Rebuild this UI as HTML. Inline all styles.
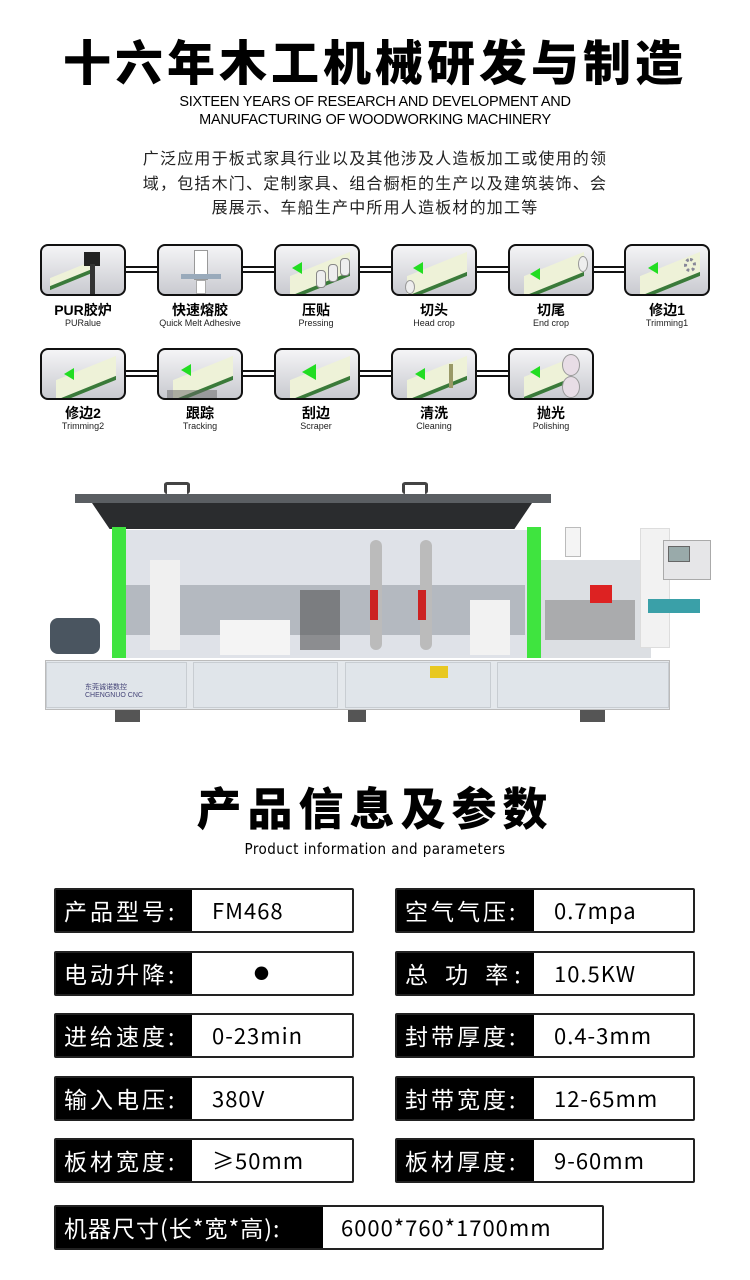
<!DOCTYPE html>
<html><head><meta charset="utf-8"><style>
*{margin:0;padding:0;box-sizing:border-box}
body{width:750px;height:1280px;background:#fff;position:relative;overflow:hidden;font-family:"Liberation Sans","Noto Sans CJK SC",sans-serif;color:#000}
.a{position:absolute}
.c{text-align:center;left:0;width:750px}
.ic{position:absolute;width:86px;height:52px;border:2px solid #111;border-radius:8px;background:linear-gradient(#f4f4f6,#c9cad0);overflow:hidden}
.ln{position:absolute;height:7px;border-top:2px solid #111;border-bottom:2px solid #111}
.pl{position:absolute;width:60px;height:24px;left:14px;top:18px;background:#eef2d8;transform:skewY(-22deg);border-bottom:4px solid #3a7a3a}
.ar{position:absolute;left:24px;top:20px;width:0;height:0;border-top:6px solid transparent;border-bottom:6px solid transparent;border-right:10px solid #22dd22}
.lb{position:absolute;width:120px;text-align:center;font-size:14px;font-weight:bold;line-height:15px}
.lb small{display:block;font-size:9px;font-weight:normal;line-height:10px;color:#222}
.row{position:absolute;height:45px;border:2px solid #222;border-radius:2px;background:#fff;display:flex}
.row .k{background:#000;color:#fff;font-size:23px;line-height:41px;padding-left:8px;letter-spacing:3px;font-family:"Noto Sans CJK SC",sans-serif}
.row .v{font-size:22px;line-height:41px;padding-left:20px;letter-spacing:1px;font-family:"Noto Sans CJK SC","Liberation Sans",sans-serif}
</style></head><body>
<div class="a c" style="top:26px;font-size:48px;font-weight:900;letter-spacing:4px;line-height:66px;font-family:'Noto Sans CJK SC',sans-serif">十六年木工机械研发与制造</div>
<div class="a c" style="top:93px;font-size:14.5px;line-height:18px;letter-spacing:-0.3px">SIXTEEN YEARS OF RESEARCH AND DEVELOPMENT AND<br>MANUFACTURING OF WOODWORKING MACHINERY</div>
<div class="a c" style="top:145px;font-size:16px;line-height:24.5px;letter-spacing:1.2px;font-family:'Noto Sans CJK SC',sans-serif;color:#222">广泛应用于板式家具行业以及其他涉及人造板加工或使用的领<br>域，包括木门、定制家具、组合橱柜的生产以及建筑装饰、会<br>展展示、车船生产中所用人造板材的加工等</div>

<div class="ln" style="left:126px;top:266px;width:32px"></div>
<div class="ln" style="left:243px;top:266px;width:32px"></div>
<div class="ln" style="left:359px;top:266px;width:33px"></div>
<div class="ln" style="left:476px;top:266px;width:33px"></div>
<div class="ln" style="left:593px;top:266px;width:32px"></div>
<div class="ln" style="left:126px;top:370px;width:32px"></div>
<div class="ln" style="left:243px;top:370px;width:32px"></div>
<div class="ln" style="left:359px;top:370px;width:33px"></div>
<div class="ln" style="left:476px;top:370px;width:33px"></div>

<div class="ic" style="left:40px;top:244px"><div class="pl" style="left:8px;top:24px;width:40px;height:12px"></div><div class="a" style="left:42px;top:6px;width:16px;height:14px;background:#222"></div><div class="a" style="left:48px;top:18px;width:5px;height:30px;background:#333"></div></div>
<div class="ic" style="left:157px;top:244px"><div class="a" style="left:35px;top:4px;width:14px;height:30px;background:#fff;border:1px solid #999"></div><div class="a" style="left:22px;top:28px;width:40px;height:5px;background:#9ab"></div><div class="a" style="left:37px;top:34px;width:10px;height:14px;background:#fff;border:1px solid #aaa"></div></div>
<div class="ic" style="left:274px;top:244px"><div class="pl"></div><div class="ar" style="left:16px;top:16px"></div><div class="a" style="left:40px;top:24px;width:10px;height:18px;background:#eee;border:1px solid #888;border-radius:4px"></div><div class="a" style="left:52px;top:18px;width:10px;height:18px;background:#eee;border:1px solid #888;border-radius:4px"></div><div class="a" style="left:64px;top:12px;width:10px;height:18px;background:#eee;border:1px solid #888;border-radius:4px"></div></div>
<div class="ic" style="left:391px;top:244px"><div class="pl"></div><div class="ar" style="left:20px;top:16px"></div><div class="a" style="left:12px;top:34px;width:10px;height:14px;border-radius:50%;background:#eee;border:1px solid #999"></div></div>
<div class="ic" style="left:508px;top:244px"><div class="pl"></div><div class="ar" style="left:20px;top:22px"></div><div class="a" style="left:68px;top:10px;width:10px;height:16px;border-radius:50%;background:#eee;border:1px solid #999"></div></div>
<div class="ic" style="left:624px;top:244px"><div class="pl"></div><div class="ar" style="left:22px;top:16px"></div><div class="a" style="left:58px;top:12px;width:12px;height:14px;border-radius:50%;border:3px dotted #889"></div></div>
<div class="lb" style="left:23px;top:303px">PUR胶炉<small>PURalue</small></div>
<div class="lb" style="left:140px;top:303px">快速熔胶<small>Quick Melt Adhesive</small></div>
<div class="lb" style="left:256px;top:303px">压贴<small>Pressing</small></div>
<div class="lb" style="left:374px;top:303px">切头<small>Head crop</small></div>
<div class="lb" style="left:491px;top:303px">切尾<small>End crop</small></div>
<div class="lb" style="left:607px;top:303px">修边1<small>Trimming1</small></div>

<div class="ic" style="left:40px;top:348px"><div class="pl"></div><div class="ar" style="left:22px;top:18px"></div></div>
<div class="ic" style="left:157px;top:348px"><div class="pl"></div><div class="ar" style="left:22px;top:14px"></div><div class="a" style="left:8px;top:40px;width:50px;height:8px;background:#666;opacity:.5"></div></div>
<div class="ic" style="left:274px;top:348px"><div class="pl"></div><div class="ar" style="left:26px;top:14px;border-right-width:14px;border-top-width:8px;border-bottom-width:8px"></div></div>
<div class="ic" style="left:391px;top:348px"><div class="pl"></div><div class="ar" style="left:22px;top:18px"></div><div class="a" style="left:56px;top:14px;width:4px;height:24px;background:#996"></div></div>
<div class="ic" style="left:508px;top:348px"><div class="pl" style="width:44px"></div><div class="ar" style="left:20px;top:16px"></div><div class="a" style="left:52px;top:4px;width:18px;height:22px;border-radius:50%;background:#e8dde6;border:1px solid #999"></div><div class="a" style="left:52px;top:26px;width:18px;height:22px;border-radius:50%;background:#e8dde6;border:1px solid #999"></div></div>
<div class="lb" style="left:23px;top:406px">修边2<small>Trimming2</small></div>
<div class="lb" style="left:140px;top:406px">跟踪<small>Tracking</small></div>
<div class="lb" style="left:256px;top:406px">刮边<small>Scraper</small></div>
<div class="lb" style="left:374px;top:406px">清洗<small>Cleaning</small></div>
<div class="lb" style="left:491px;top:406px">抛光<small>Polishing</small></div>

<div class="a" style="left:75px;top:494px;width:476px;height:9px;background:#5a5e62"></div>
<div class="a" style="left:92px;top:503px;width:440px;height:26px;background:#2a2c2e;clip-path:polygon(0 0,100% 0,96% 100%,4% 100%)"></div>
<div class="a" style="left:164px;top:482px;width:26px;height:12px;border:3px solid #444;border-bottom:none;border-radius:3px"></div>
<div class="a" style="left:402px;top:482px;width:26px;height:12px;border:3px solid #444;border-bottom:none;border-radius:3px"></div>
<div class="a" style="left:112px;top:530px;width:420px;height:128px;background:#dfe2e8"></div>
<div class="a" style="left:125px;top:585px;width:400px;height:50px;background:#b4b9c0"></div>
<div class="a" style="left:150px;top:560px;width:30px;height:90px;background:#f0f0f0"></div>
<div class="a" style="left:220px;top:620px;width:70px;height:35px;background:#f4f4f4"></div>
<div class="a" style="left:300px;top:590px;width:40px;height:60px;background:#555;opacity:.6"></div>
<div class="a" style="left:370px;top:540px;width:12px;height:110px;background:#bbb;border-radius:6px"></div>
<div class="a" style="left:420px;top:540px;width:12px;height:110px;background:#bbb;border-radius:6px"></div>
<div class="a" style="left:370px;top:590px;width:8px;height:30px;background:#c22"></div>
<div class="a" style="left:418px;top:590px;width:8px;height:30px;background:#c22"></div>
<div class="a" style="left:470px;top:600px;width:40px;height:55px;background:#f2f2f2"></div>
<div class="a" style="left:112px;top:527px;width:14px;height:131px;background:#3fe43f"></div>
<div class="a" style="left:527px;top:527px;width:14px;height:131px;background:#3fe43f"></div>
<div class="a" style="left:541px;top:560px;width:110px;height:98px;background:#dcdfe3"></div>
<div class="a" style="left:545px;top:600px;width:90px;height:40px;background:#777;opacity:.5"></div>
<div class="a" style="left:565px;top:527px;width:16px;height:30px;background:#f4f4f4;border:1px solid #bbb"></div>
<div class="a" style="left:590px;top:585px;width:22px;height:18px;background:#d22"></div>
<div class="a" style="left:640px;top:528px;width:30px;height:120px;background:#f2f2f2;border:1px solid #ddd"></div>
<div class="a" style="left:663px;top:540px;width:48px;height:40px;background:#e6e6e8;border:1px solid #aaa"></div>
<div class="a" style="left:668px;top:546px;width:22px;height:16px;background:#9aa;border:1px solid #666"></div>
<div class="a" style="left:648px;top:599px;width:52px;height:14px;background:#3aa0a8"></div>
<div class="a" style="left:50px;top:618px;width:50px;height:36px;background:#4a5560;border-radius:8px"></div>
<div class="a" style="left:45px;top:660px;width:625px;height:50px;background:#e4e8ec;border:1px solid #bbb"></div>
<div class="a" style="left:46px;top:662px;width:141px;height:46px;background:#e0e5ea;border:1px solid #c8cdd2"></div>
<div class="a" style="left:193px;top:662px;width:145px;height:46px;background:#e0e5ea;border:1px solid #c8cdd2"></div>
<div class="a" style="left:345px;top:662px;width:146px;height:46px;background:#e0e5ea;border:1px solid #c8cdd2"></div>
<div class="a" style="left:497px;top:662px;width:172px;height:46px;background:#e0e5ea;border:1px solid #c8cdd2"></div>
<div class="a" style="left:430px;top:666px;width:18px;height:12px;background:#e8c820"></div>
<div class="a" style="left:85px;top:682px;font-size:7px;color:#447">东莞诚诺数控<br>CHENGNUO CNC</div>
<div class="a" style="left:115px;top:710px;width:25px;height:12px;background:#555"></div>
<div class="a" style="left:348px;top:710px;width:18px;height:12px;background:#555"></div>
<div class="a" style="left:580px;top:710px;width:25px;height:12px;background:#555"></div>

<div class="a c" style="top:775px;font-size:45px;font-weight:900;letter-spacing:6px;line-height:62px;font-family:'Noto Sans CJK SC',sans-serif">产品信息及参数</div>
<div class="a c" style="top:840px;font-size:15px;line-height:18px;letter-spacing:.5px;font-family:'DejaVu Sans',sans-serif;transform:scaleX(.9)">Product information and parameters</div>

<div class="row" style="left:54px;top:888px;width:300px"><div class="k" style="width:136px">产品型号:</div><div class="v">FM468</div></div>
<div class="row" style="left:395px;top:888px;width:300px"><div class="k" style="width:137px">空气气压:</div><div class="v">0.7mpa</div></div>
<div class="row" style="left:54px;top:951px;width:300px"><div class="k" style="width:136px">电动升降:</div><div class="v" style="padding-left:62px;font-size:15px">●</div></div>
<div class="row" style="left:395px;top:951px;width:300px"><div class="k" style="width:137px;letter-spacing:6px">总 功 率:</div><div class="v">10.5KW</div></div>
<div class="row" style="left:54px;top:1013px;width:300px"><div class="k" style="width:136px">进给速度:</div><div class="v">0-23min</div></div>
<div class="row" style="left:395px;top:1013px;width:300px"><div class="k" style="width:137px">封带厚度:</div><div class="v">0.4-3mm</div></div>
<div class="row" style="left:54px;top:1076px;width:300px"><div class="k" style="width:136px">输入电压:</div><div class="v">380V</div></div>
<div class="row" style="left:395px;top:1076px;width:300px"><div class="k" style="width:137px">封带宽度:</div><div class="v">12-65mm</div></div>
<div class="row" style="left:54px;top:1138px;width:300px"><div class="k" style="width:136px">板材宽度:</div><div class="v">≥50mm</div></div>
<div class="row" style="left:395px;top:1138px;width:300px"><div class="k" style="width:137px">板材厚度:</div><div class="v">9-60mm</div></div>
<div class="row" style="left:54px;top:1205px;width:550px"><div class="k" style="width:267px;letter-spacing:1px">机器尺寸(长*宽*高):</div><div class="v" style="padding-left:18px">6000*760*1700mm</div></div>
</body></html>
